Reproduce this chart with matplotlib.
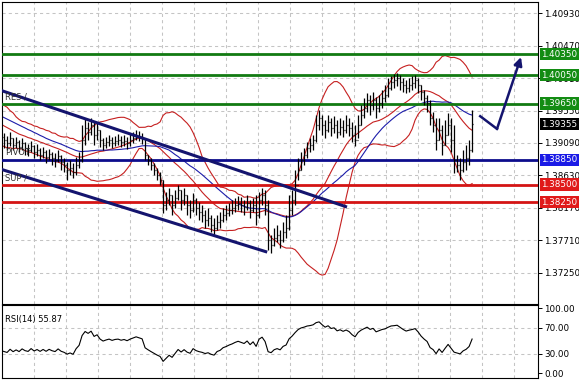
import numpy as np
import pandas as pd
import matplotlib
matplotlib.use("Agg")
import matplotlib.pyplot as plt
from matplotlib.transforms import blended_transform_factory

# ---------------- data ----------------
pre_closes = [1.3977, 1.3973, 1.3981, 1.3970, 1.3974, 1.3966, 1.3970, 1.3963, 1.3967, 1.3959,
              1.3964, 1.3956, 1.3960, 1.3953, 1.3957, 1.3949, 1.3940, 1.3931, 1.3938, 1.3928,
              1.3935, 1.3924, 1.3932, 1.3921, 1.3928, 1.3918, 1.3926, 1.3915, 1.3922, 1.3917]

highs = [1.3923, 1.3919, 1.3925, 1.3916, 1.3917, 1.3913, 1.3916, 1.3910, 1.3908, 1.3912,
         1.3906, 1.3908, 1.3902, 1.3903, 1.3899, 1.3900, 1.3896, 1.3895, 1.3899, 1.3892,
         1.3888, 1.3882, 1.3885, 1.3881, 1.3889, 1.3896, 1.3935, 1.3944, 1.3939, 1.3944,
         1.3939, 1.3937, 1.3927, 1.3916, 1.3917, 1.3920, 1.3917, 1.3919, 1.3922, 1.3919,
         1.3920, 1.3917, 1.3922, 1.3925, 1.3927, 1.3926, 1.3923, 1.3916, 1.3892, 1.3888,
         1.3881, 1.3873, 1.3868, 1.3856, 1.3839, 1.3845, 1.3835, 1.3842, 1.3849, 1.3842,
         1.3845, 1.3835, 1.3828, 1.3838, 1.3831, 1.3825, 1.3821, 1.3814, 1.3817, 1.3807,
         1.3802, 1.3807, 1.3811, 1.3817, 1.3821, 1.3824, 1.3828, 1.3831, 1.3834, 1.3832,
         1.3828, 1.3835, 1.3828, 1.3831, 1.3835, 1.3839, 1.3845, 1.3842, 1.3828, 1.3778,
         1.3788, 1.3793, 1.3785, 1.3797, 1.3807, 1.3835, 1.3842, 1.3871, 1.3888, 1.3896,
         1.3902, 1.3910, 1.3916, 1.3920, 1.3949, 1.3956, 1.3949, 1.3942, 1.3949, 1.3944,
         1.3947, 1.3942, 1.3944, 1.3942, 1.3949, 1.3944, 1.3939, 1.3935, 1.3949, 1.3963,
         1.3973, 1.3980, 1.3977, 1.3981, 1.3974, 1.3977, 1.3984, 1.3991, 1.4001, 1.4004,
         1.4007, 1.4008, 1.4006, 1.4001, 1.3998, 1.4001, 1.4004, 1.4006, 1.4001, 1.3991,
         1.3984, 1.3977, 1.3970, 1.3953, 1.3944, 1.3944, 1.3935, 1.3942, 1.3952, 1.3944,
         1.3935, 1.3892, 1.3888, 1.3899, 1.3906, 1.3913, 1.3956]

lows = [1.3902, 1.3899, 1.3905, 1.3899, 1.3902, 1.3896, 1.3899, 1.3892, 1.3890, 1.3896,
        1.3888, 1.3890, 1.3885, 1.3888, 1.3881, 1.3885, 1.3878, 1.3875, 1.3882, 1.3871,
        1.3868, 1.3856, 1.3863, 1.3859, 1.3863, 1.3873, 1.3882, 1.3906, 1.3913, 1.3920,
        1.3906, 1.3913, 1.3903, 1.3899, 1.3902, 1.3905, 1.3902, 1.3905, 1.3906, 1.3903,
        1.3905, 1.3900, 1.3905, 1.3909, 1.3913, 1.3912, 1.3908, 1.3885, 1.3878, 1.3871,
        1.3863, 1.3856, 1.3849, 1.3810, 1.3814, 1.3821, 1.3807, 1.3817, 1.3828, 1.3814,
        1.3821, 1.3807, 1.3802, 1.3811, 1.3807, 1.3800, 1.3797, 1.3788, 1.3791, 1.3783,
        1.3778, 1.3785, 1.3788, 1.3797, 1.3800, 1.3805, 1.3808, 1.3811, 1.3814, 1.3811,
        1.3807, 1.3814, 1.3802, 1.3811, 1.3793, 1.3802, 1.3821, 1.3807, 1.3757, 1.3753,
        1.3763, 1.3768, 1.3760, 1.3768, 1.3774, 1.3785, 1.3807, 1.3821, 1.3856, 1.3871,
        1.3878, 1.3888, 1.3896, 1.3899, 1.3910, 1.3927, 1.3920, 1.3916, 1.3925, 1.3919,
        1.3923, 1.3916, 1.3920, 1.3917, 1.3923, 1.3919, 1.3910, 1.3905, 1.3916, 1.3935,
        1.3944, 1.3953, 1.3949, 1.3956, 1.3944, 1.3953, 1.3959, 1.3967, 1.3974, 1.3984,
        1.3987, 1.3990, 1.3984, 1.3981, 1.3980, 1.3981, 1.3984, 1.3987, 1.3980, 1.3970,
        1.3963, 1.3953, 1.3935, 1.3925, 1.3899, 1.3913, 1.3892, 1.3906, 1.3920, 1.3896,
        1.3866, 1.3868, 1.3856, 1.3868, 1.3871, 1.3878, 1.3896]

closes = [1.3913, 1.3909, 1.3916, 1.3906, 1.3910, 1.3903, 1.3909, 1.3902, 1.3899, 1.3905,
          1.3896, 1.3899, 1.3892, 1.3896, 1.3889, 1.3893, 1.3888, 1.3885, 1.3890, 1.3882,
          1.3878, 1.3871, 1.3873, 1.3868, 1.3878, 1.3885, 1.3913, 1.3930, 1.3925, 1.3935,
          1.3920, 1.3927, 1.3913, 1.3906, 1.3910, 1.3913, 1.3909, 1.3912, 1.3913, 1.3910,
          1.3912, 1.3909, 1.3913, 1.3916, 1.3919, 1.3917, 1.3915, 1.3892, 1.3885, 1.3878,
          1.3871, 1.3863, 1.3856, 1.3821, 1.3828, 1.3835, 1.3821, 1.3831, 1.3842, 1.3828,
          1.3835, 1.3821, 1.3814, 1.3828, 1.3817, 1.3811, 1.3807, 1.3800, 1.3802, 1.3793,
          1.3788, 1.3797, 1.3800, 1.3807, 1.3810, 1.3814, 1.3817, 1.3821, 1.3824, 1.3821,
          1.3818, 1.3824, 1.3814, 1.3821, 1.3807, 1.3828, 1.3835, 1.3821, 1.3771, 1.3764,
          1.3774, 1.3778, 1.3771, 1.3783, 1.3788, 1.3814, 1.3828, 1.3849, 1.3871, 1.3885,
          1.3892, 1.3902, 1.3906, 1.3913, 1.3935, 1.3944, 1.3935, 1.3927, 1.3939, 1.3930,
          1.3935, 1.3925, 1.3932, 1.3927, 1.3935, 1.3930, 1.3920, 1.3913, 1.3935, 1.3949,
          1.3959, 1.3970, 1.3963, 1.3970, 1.3959, 1.3966, 1.3973, 1.3977, 1.3987, 1.3996,
          1.3998, 1.4001, 1.3996, 1.3991, 1.3987, 1.3991, 1.3994, 1.3998, 1.3991, 1.3981,
          1.3973, 1.3966, 1.3944, 1.3935, 1.3913, 1.3927, 1.3906, 1.3920, 1.3935, 1.3913,
          1.3885, 1.3878, 1.3871, 1.3882, 1.3888, 1.3899, 1.39355]

level_values = [1.4035, 1.4005, 1.3965, 1.3885, 1.3850, 1.3825]
level_texts = ["1.40350", "1.40050", "1.39650", "1.38850", "1.38500", "1.38250"]
level_line_colors = ["#127a12", "#127a12", "#127a12", "#0c0c8c", "#d41414", "#d41414"]
level_box_colors = ["#138c13", "#138c13", "#138c13", "#1a1ae6", "#e01a1a", "#e01a1a"]

price_ticks = [1.40930, 1.40470, 1.40010, 1.39550, 1.39090, 1.38630, 1.38170, 1.37710, 1.37250]
rsi_ticks = [100, 70, 30, 0]
last_price = 1.39355
last_price_text = "1.39355"

zone_names = ["RES /", "PIVOT", "SUP /"]
zone_levels = [1.3965, 1.3885, 1.3850]

res_channel_x = [-1.3, 114.3]
res_channel_y = [1.3984, 1.3818]
sup_channel_x = [-1.3, 87.7]
sup_channel_y = [1.3872, 1.3754]
arrow_x = [158.7, 164.3, 172.3]
arrow_y = [1.3947, 1.3929, 1.4031]

rsi_period = 14
bb_period = 20
ma_period = 30

# ---------------- derived series ----------------
n = len(closes)
x = np.arange(n)
all_closes = pd.Series(pre_closes + closes)
x_all = np.arange(-len(pre_closes), n)
opens = [pre_closes[-1]] + closes[:-1]

mid = all_closes.rolling(bb_period).mean()
sd = all_closes.rolling(bb_period).std(ddof=0)
upper = mid + 2 * sd
lower = mid - 2 * sd
ma = all_closes.rolling(ma_period).mean()

delta = all_closes.diff()
gain = delta.clip(lower=0).ewm(alpha=1 / rsi_period, adjust=False).mean()
loss = (-delta.clip(upper=0)).ewm(alpha=1 / rsi_period, adjust=False).mean()
rsi = 100 - 100 / (1 + gain / loss)

# ---------------- figure ----------------
W, H = 579, 380
fig = plt.figure(figsize=(W / 100, H / 100), dpi=100)
fig.patch.set_facecolor("white")

ax = fig.add_axes([2 / W, (H - 303.5) / H, 536 / W, 301.5 / H])
axr = fig.add_axes([2 / W, 2 / H, 536 / W, 73 / H], sharex=ax)

xmin, xmax = -0.7, -0.7 + 536 / 3
grid_x = np.arange(10, xmax, 32 / 3)
grid_kw = dict(color="#c4c4c4", lw=0.75, dashes=(3, 3), zorder=0)

for a in (ax, axr):
    a.set_facecolor("white")
    for s in a.spines.values():
        s.set_color("black")
        s.set_linewidth(0.8)
    for gx in grid_x:
        a.axvline(gx, **grid_kw)
    a.tick_params(axis="x", which="both", bottom=False, labelbottom=False)
    a.yaxis.tick_right()
    a.tick_params(axis="y", direction="out", length=3, width=0.7, pad=1.5,
                  labelsize=6.3, colors="black")

# ---- main price panel ----
ax.set_xlim(xmin, xmax)
ax.set_ylim(1.36810, 1.41092)
ax.set_yticks(price_ticks)
ax.set_yticklabels([f"{t:.5f}" for t in price_ticks])
for t in price_ticks:
    ax.axhline(t, **grid_kw)

for lv, c in zip(level_values, level_line_colors):
    ax.axhline(lv, color=c, lw=2.0, zorder=3)

ax.plot(x_all, upper, color="#c62020", lw=0.8, zorder=2)
ax.plot(x_all, mid, color="#c62020", lw=0.8, zorder=2)
ax.plot(x_all, lower, color="#c62020", lw=0.8, zorder=2)
ax.plot(x_all, ma, color="#1c1caa", lw=0.8, zorder=2)

ax.vlines(x, lows, highs, color="black", lw=0.9, zorder=4)
ax.hlines(opens, x - 0.45, x, color="black", lw=0.9, zorder=4)
ax.hlines(closes, x, x + 0.45, color="black", lw=0.9, zorder=4)

navy = "#14146e"
ax.plot(res_channel_x, res_channel_y, color=navy, lw=2.2, zorder=5, solid_capstyle="butt")
ax.plot(sup_channel_x, sup_channel_y, color=navy, lw=2.2, zorder=5, solid_capstyle="butt")
ax.plot(arrow_x[:2], arrow_y[:2], color=navy, lw=1.8, zorder=5)
ax.annotate("", xy=(arrow_x[2], arrow_y[2]), xytext=(arrow_x[1], arrow_y[1]),
            arrowprops=dict(arrowstyle="-|>", color=navy, lw=1.8,
                            mutation_scale=12, shrinkA=0, shrinkB=0), zorder=5)

for name, lv in zip(zone_names, zone_levels):
    ax.annotate(name, xy=(0.3, lv), xytext=(0, 1.8), textcoords="offset points",
                fontsize=6, color="#303030", ha="left", va="bottom", zorder=6)

tr = blended_transform_factory(ax.transAxes, ax.transData)
for lv, txt, bc in zip(level_values, level_texts, level_box_colors):
    ax.text(1.0 + 3.5 / 536, lv, txt, transform=tr, ha="left", va="center",
            fontsize=6.3, color="white", clip_on=False, zorder=10,
            bbox=dict(boxstyle="square,pad=0.18", fc=bc, ec="none"))
ax.text(1.0 + 3.5 / 536, last_price, last_price_text, transform=tr, ha="left",
        va="center", fontsize=6.3, color="white", clip_on=False, zorder=10,
        bbox=dict(boxstyle="square,pad=0.18", fc="black", ec="none"))

# ---- RSI panel ----
axr.set_ylim(-7, 105)
axr.set_yticks(rsi_ticks)
axr.set_yticklabels([f"{t:.2f}" for t in rsi_ticks])
for t in (70, 30):
    axr.axhline(t, **grid_kw)
axr.plot(x_all, rsi, color="black", lw=0.8, zorder=3)
axr.text(0.006, 0.86, f"RSI({rsi_period}) 55.87", transform=axr.transAxes,
         fontsize=6, color="black", ha="left", va="top")

fig.savefig("out.png", dpi=100, facecolor="white")
